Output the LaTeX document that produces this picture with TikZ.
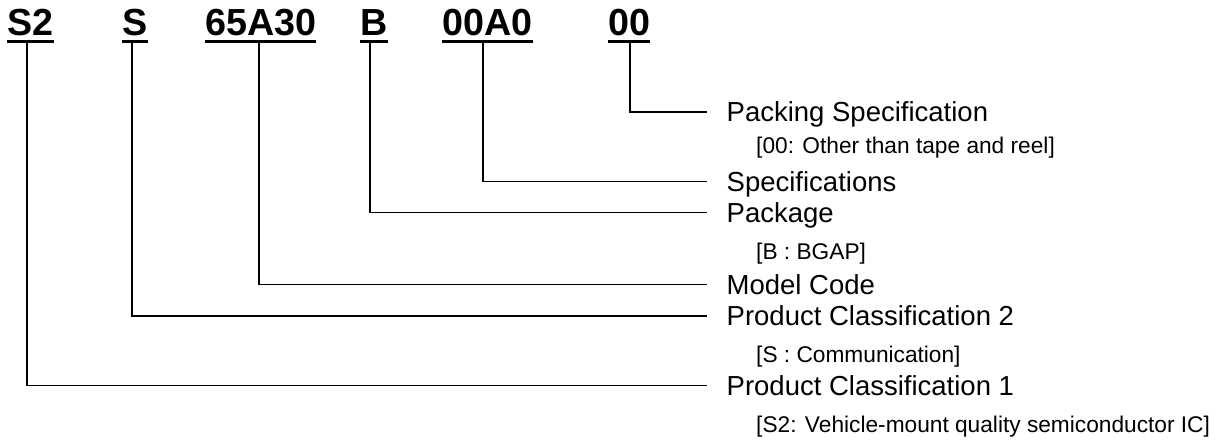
\documentclass[tikz,border=0pt]{standalone}
\usepackage{fontspec}
\setmainfont{Liberation Sans}
\begin{document}
\begin{tikzpicture}[x=1bp, y=-1bp,
    code/.style={font=\bfseries\fontsize{37.7bp}{40bp}\selectfont, inner sep=0pt, anchor=base west},
    item/.style={font=\fontsize{27.5bp}{30bp}\selectfont, inner sep=0pt, text height=19.6bp, text depth=0pt, outer xsep=20bp, anchor=west},
    note/.style={font=\fontsize{22.7bp}{25bp}\selectfont, inner sep=0pt, text height=16.3bp, text depth=0pt, anchor=west},
    ul/.style={line width=3bp},
    lead/.style={line width=1.7bp}]
    \useasboundingbox (0,0) rectangle (1223,445);

    % part number
    \foreach \n/\t/\x in {s2/S2/7, s/S/122, model/65A30/205, pkg/B/360, spec/00A0/442, pack/00/608} {
            \node[code] (\n) at (\x, 36) {\t};
            \draw[ul] ([yshift=-5.5bp]\n.base west) -- ([yshift=-5.5bp]\n.base east);
        }

    % labels
    \node[item] (packL) at (706.7, 112) {Packing Specification};
    \node[note] (packN) at (756, 145) {[00: Other than tape and reel]};
    \node[item] (specL) at (706.7, 181.5) {Specifications};
    \node[item] (pkgL) at (706.7, 212.5) {Package};
    \node[note] (pkgN) at (756, 251.5) {[B : BGAP]};
    \node[item] (modelL) at (706.7, 284.5) {Model Code};
    \node[item] (sL) at (706.7, 315.7) {Product Classification 2};
    \node[note] (sN) at (756, 354.5) {[S : Communication]};
    \node[item] (s2L) at (706.7, 385.5) {Product Classification 1};
    \node[note] (s2N) at (756, 424) {[S2: Vehicle-mount quality semiconductor IC]};

    \foreach \n/\d in {s2/-3.3, s/-2.5, model/-1.5, pkg/-4, spec/-4, pack/1}
        \draw[lead] ([xshift=\d bp, yshift=-7bp]\n.base) |- (\n L.west);
\end{tikzpicture}
\end{document}
